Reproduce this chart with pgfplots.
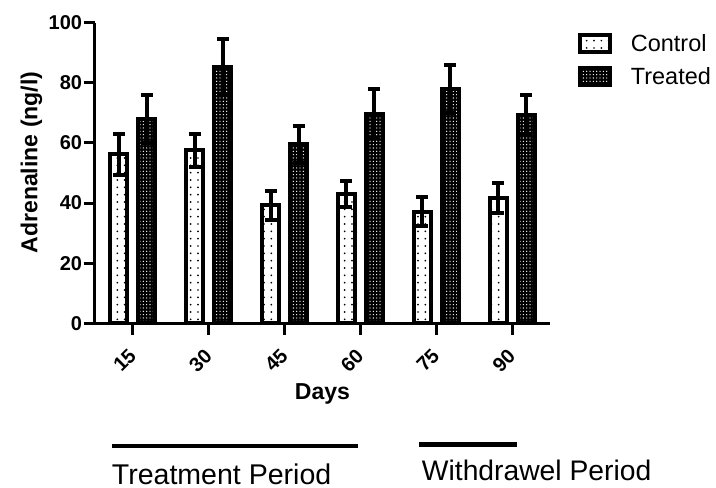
\documentclass[border=0pt]{standalone}
\usepackage{fontspec}
\setmainfont{Liberation Sans}
\usepackage{pgfplots}
\pgfplotsset{compat=1.18}
\usetikzlibrary{patterns.meta}
\pgfplotsset{boxlegend/.style={legend image code/.code={\draw[##1, line width=3pt] (0pt,-6.5pt) rectangle (23pt,6.5pt);}}}
\begin{document}
\begin{tikzpicture}
\useasboundingbox (-71.25pt,-123.5pt) rectangle (465.75pt,242.5pt);
\begin{axis}[
 at={(0pt,0pt)}, anchor=south west,
 scale only axis, width=341.25pt, height=225.45pt,
 xmin=-0.5, xmax=5.5, ymin=0, ymax=100,
 axis x line*=bottom, axis y line*=left,
 axis line style={line width=2.25pt, black},
 ytick={0,20,...,100},
 xtick={0,...,5}, xticklabels={15,30,45,60,75,90},
 tick align=outside, major tick length=8.5pt,
 tick style={line width=2.25pt, black},
 /pgf/number format/assume math mode=true,
 ticklabel style={font=\fontsize{15}{17}\selectfont\bfseries},
 yticklabel style={inner sep=1pt},
 xticklabel style={xshift=0.5pt, yshift=-12.5pt, rotate=45, anchor=east, inner sep=1pt},
 xlabel={Days}, ylabel={Adrenaline (ng/l)},
 label style={font=\fontsize{17.3}{20}\selectfont\bfseries},
 xlabel style={at={(axis description cs:0.5,-0.255)}, anchor=base},
 ylabel style={at={(axis description cs:-0.1264,0.535)}, anchor=base},
 ybar, bar width=12.75pt,
 legend style={draw=none, fill=none, at={(axis description cs:1.06,0.972)}, anchor=north west,
   font=\fontsize{17.6}{20}\selectfont, row sep=6.5pt, inner sep=0pt,
   /tikz/every even column/.append style={column sep=0pt}},
 legend cell align=left,
 legend style={nodes={inner xsep=0pt}, /tikz/every odd column/.append style={column sep=14pt}},
]
\addplot[boxlegend, bar shift=-10.5pt, draw=black, line width=3pt, fill=white,
  postaction={pattern={Dots[distance=5.5pt, radius=0.7pt]}, pattern color=black},
  error bars/.cd, y dir=both, y explicit,
  error bar style={line width=3pt, black},
  error mark options={rotate=90, mark size=4.5pt, line width=3pt, black}]
 coordinates {(0,56.2) +- (0,6.8) (1,57.6) +- (0,5.5) (2,39.3) +- (0,4.8)
              (3,43.0) +- (0,4.3) (4,37.1) +- (0,4.8) (5,41.7) +- (0,5.1)};
\addlegendentry{Control}
\addplot[boxlegend, bar shift=10.5pt, draw=black, line width=3pt, fill=black,
  postaction={pattern={Dots[distance=2.5pt, radius=0.5pt]}, pattern color=white},
  error bars/.cd, y dir=both, y explicit,
  error bar style={line width=3pt, black},
  error mark options={rotate=90, mark size=4.5pt, line width=3pt, black}]
 coordinates {(0,67.9) +- (0,8.0) (1,85.3) +- (0,9.2) (2,59.5) +- (0,6.2)
              (3,69.8) +- (0,8.1) (4,77.9) +- (0,8.0) (5,69.3) +- (0,6.6)};
\addlegendentry{Treated}
\end{axis}
\draw[line width=3pt] (12.75pt,-92pt) -- (197.25pt,-92pt);
\draw[line width=3.2pt] (243pt,-90.9pt) -- (316.5pt,-90.9pt);
\node[anchor=base west, inner sep=0pt, font=\fontsize{21.4}{24}\selectfont] at (12.5pt,-120.8pt) {Treatment Period};
\node[anchor=base west, inner sep=0pt, font=\fontsize{21.2}{24}\selectfont] at (245pt,-117.5pt) {Withdrawel Period};
\end{tikzpicture}
\end{document}
